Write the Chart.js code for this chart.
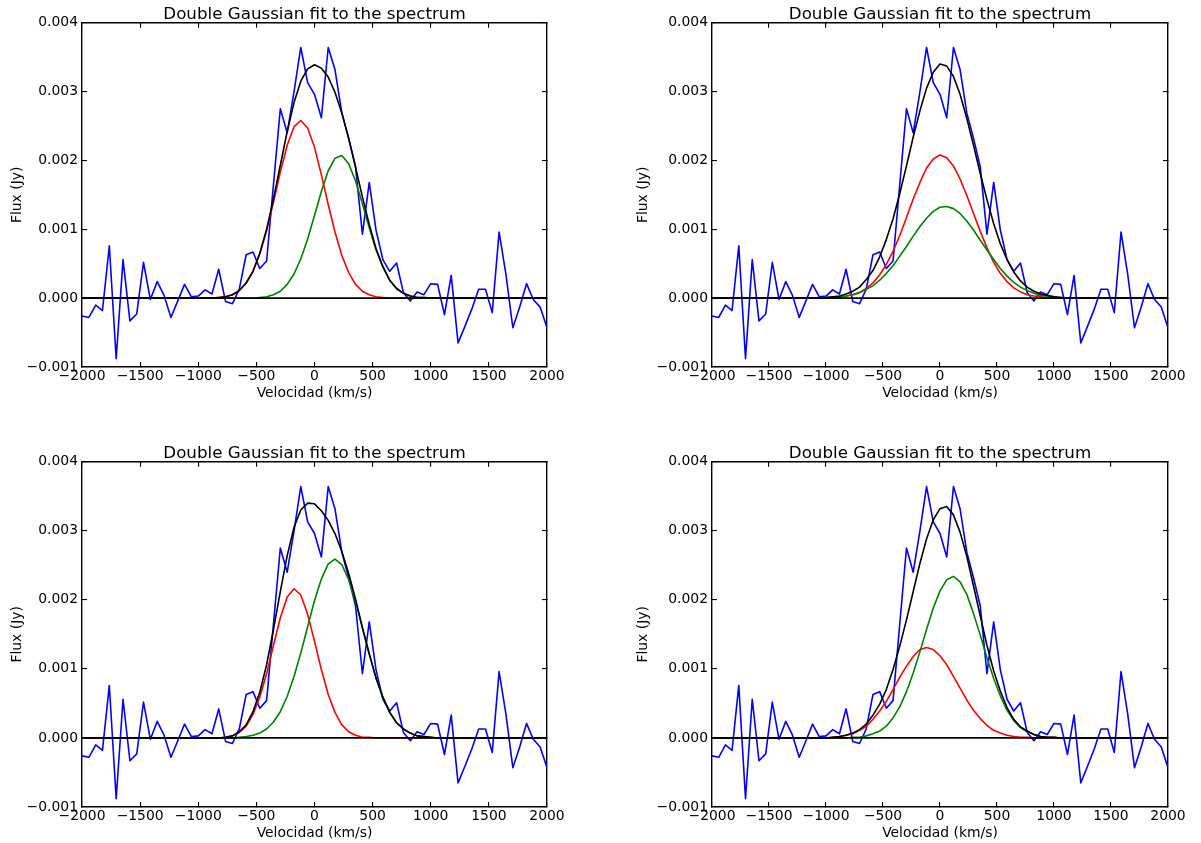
<!DOCTYPE html>
<html>
<head>
<meta charset="utf-8">
<script src="https://cdn.jsdelivr.net/npm/chart.js@4.4.1/dist/chart.umd.min.js"></script>
<style>
  html, body { margin: 0; padding: 0; background: #fff; overflow: hidden; }
  canvas { position: absolute; }
</style>
</head>
<body>
<canvas id="c1" width="600" height="403" style="left:0px;top:0px"></canvas>
<canvas id="c2" width="575" height="403" style="left:626px;top:0px"></canvas>
<canvas id="c3" width="600" height="404" style="left:0px;top:439px"></canvas>
<canvas id="c4" width="575" height="404" style="left:626px;top:439px"></canvas>
<script>
// velocity grid (km/s)
const vel = [-2000,-1941,-1882,-1824,-1765,-1706,-1647,-1588,-1529,-1471,
  -1412,-1353,-1294,-1235,-1176,-1118,-1059,-1000,-941,-882,
  -824,-765,-706,-647,-588,-529,-471,-412,-353,-294,
  -235,-176,-118,-59,0,59,118,176,235,294,
  353,412,471,529,588,647,706,765,824,882,
  941,1000,1059,1118,1176,1235,1294,1353,1412,1471,
  1529,1588,1647,1706,1765,1824,1882,1941,2000];

// observed spectrum, mJy
const spec = [-0.26,-0.28,-0.10,-0.18,0.76,-0.88,0.56,-0.33,-0.23,0.52,
  -0.02,0.24,0.04,-0.28,-0.04,0.20,0.02,0.03,0.12,0.06,
  0.42,-0.05,-0.08,0.13,0.63,0.67,0.43,0.54,1.65,2.75,
  2.40,3.00,3.64,3.13,2.96,2.62,3.64,3.32,2.69,2.32,
  1.91,0.93,1.68,0.99,0.56,0.39,0.51,0.08,-0.04,0.09,
  0.05,0.21,0.20,-0.24,0.33,-0.65,-0.41,-0.16,0.13,0.13,
  -0.21,0.96,0.34,-0.43,-0.13,0.21,-0.02,-0.13,-0.43];

// fit 1 (top left), mJy
const red1 = [0,0,0,0,0,0,0,0,0,0,
  0,0,0,0,0,0,0,0,0,0,
  0.01,0.02,0.05,0.11,0.22,0.39,0.64,0.98,1.39,1.83,
  2.22,2.49,2.58,2.47,2.19,1.79,1.36,0.96,0.62,0.37,
  0.20,0.10,0.05,0.02,0.01,0,0,0,0,0,
  0,0,0,0,0,0,0,0,0,0,
  0,0,0,0,0,0,0,0,0];
const green1 = [0,0,0,0,0,0,0,0,0,0,
  0,0,0,0,0,0,0,0,0,0,
  0,0,0,0,0,0,0.01,0.02,0.05,0.10,
  0.20,0.35,0.57,0.86,1.20,1.55,1.85,2.03,2.07,1.95,
  1.70,1.37,1.02,0.70,0.45,0.26,0.14,0.07,0.03,0.01,
  0.01,0,0,0,0,0,0,0,0,0,
  0,0,0,0,0,0,0,0,0];
const total1 = [0,0,0,0,0,0,0,0,0,0,
  0,0,0,0,0,0,0,0,0,0,
  0.01,0.02,0.05,0.11,0.22,0.39,0.65,1.00,1.44,1.93,
  2.42,2.84,3.15,3.33,3.39,3.34,3.21,2.99,2.69,2.32,
  1.90,1.47,1.07,0.72,0.46,0.26,0.14,0.07,0.03,0.01,
  0.01,0,0,0,0,0,0,0,0,0,
  0,0,0,0,0,0,0,0,0];

// fit 2 (top right), mJy
const red2 = [0,0,0,0,0,0,0,0,0,0,
  0,0,0,0,0,0,0,0,0.01,0.01,
  0.03,0.05,0.08,0.14,0.22,0.34,0.49,0.68,0.91,1.17,
  1.44,1.68,1.89,2.02,2.08,2.04,1.92,1.73,1.49,1.23,
  0.97,0.73,0.52,0.36,0.24,0.15,0.09,0.05,0.03,0.02,
  0.01,0,0,0,0,0,0,0,0,0,
  0,0,0,0,0,0,0,0,0];
const green2 = [0,0,0,0,0,0,0,0,0,0,
  0,0,0,0,0,0,0,0.01,0.01,0.02,
  0.03,0.05,0.08,0.13,0.18,0.26,0.36,0.47,0.61,0.75,
  0.90,1.04,1.16,1.26,1.32,1.33,1.30,1.23,1.12,0.99,
  0.84,0.70,0.56,0.43,0.32,0.23,0.16,0.11,0.07,0.04,
  0.03,0.02,0.01,0,0,0,0,0,0,0,
  0,0,0,0,0,0,0,0,0];
const total2 = [0,0,0,0,0,0,0,0,0,0,
  0,0,0,0,0,0,0,0.01,0.02,0.03,
  0.06,0.10,0.16,0.27,0.40,0.60,0.85,1.15,1.52,1.92,
  2.34,2.72,3.05,3.28,3.40,3.37,3.22,2.96,2.61,2.22,
  1.81,1.43,1.08,0.79,0.56,0.38,0.25,0.16,0.10,0.06,
  0.04,0.02,0.01,0,0,0,0,0,0,0,
  0,0,0,0,0,0,0,0,0];

// fit 3 (bottom left), mJy
const red3 = [0,0,0,0,0,0,0,0,0,0,
  0,0,0,0,0,0,0,0,0,0,
  0,0.01,0.03,0.08,0.17,0.34,0.59,0.93,1.34,1.74,
  2.04,2.16,2.07,1.79,1.40,0.99,0.63,0.37,0.19,0.09,
  0.04,0.01,0.01,0,0,0,0,0,0,0,
  0,0,0,0,0,0,0,0,0,0,
  0,0,0,0,0,0,0,0,0];
const green3 = [0,0,0,0,0,0,0,0,0,0,
  0,0,0,0,0,0,0,0,0,0,
  0,0,0,0.01,0.02,0.04,0.07,0.13,0.23,0.38,
  0.60,0.89,1.23,1.61,1.99,2.30,2.52,2.59,2.51,2.29,
  1.97,1.59,1.21,0.87,0.59,0.37,0.22,0.13,0.07,0.03,
  0.02,0.01,0,0,0,0,0,0,0,0,
  0,0,0,0,0,0,0,0,0];
const total3 = [0,0,0,0,0,0,0,0,0,0,
  0,0,0,0,0,0,0,0,0,0,
  0,0.01,0.03,0.09,0.19,0.38,0.66,1.06,1.57,2.12,
  2.64,3.05,3.30,3.40,3.39,3.29,3.15,2.96,2.70,2.38,
  2.01,1.60,1.22,0.87,0.59,0.37,0.22,0.13,0.07,0.03,
  0.02,0.01,0,0,0,0,0,0,0,0,
  0,0,0,0,0,0,0,0,0];

// fit 4 (bottom right), mJy
const red4 = [0,0,0,0,0,0,0,0,0,0,
  0,0,0,0,0,0,0,0,0.01,0.02,
  0.04,0.06,0.11,0.17,0.27,0.39,0.53,0.70,0.88,1.04,
  1.18,1.28,1.31,1.28,1.19,1.06,0.89,0.72,0.55,0.40,
  0.28,0.18,0.11,0.07,0.04,0.02,0.01,0.01,0,0,
  0,0,0,0,0,0,0,0,0,0,
  0,0,0,0,0,0,0,0,0];
const green4 = [0,0,0,0,0,0,0,0,0,0,
  0,0,0,0,0,0,0,0,0,0,
  0,0.01,0.01,0.03,0.06,0.10,0.17,0.29,0.45,0.67,
  0.94,1.25,1.57,1.88,2.13,2.29,2.34,2.26,2.08,1.80,
  1.49,1.16,0.86,0.61,0.40,0.25,0.15,0.09,0.05,0.02,
  0.01,0.01,0,0,0,0,0,0,0,0,
  0,0,0,0,0,0,0,0,0];
const total4 = [0,0,0,0,0,0,0,0,0,0,
  0,0,0,0,0,0,0,0,0.01,0.02,
  0.04,0.07,0.12,0.20,0.33,0.49,0.70,0.99,1.33,1.71,
  2.12,2.53,2.88,3.16,3.32,3.35,3.23,2.98,2.63,2.20,
  1.77,1.34,0.97,0.68,0.44,0.27,0.16,0.10,0.05,0.02,
  0.01,0.01,0,0,0,0,0,0,0,0,
  0,0,0,0,0,0,0,0,0];

const zeroX = [-2000, 2000];
const zeroY = [0, 0];

const xMin = -2000, xMax = 2000, xStep = 500;
const yMin = -0.001, yMax = 0.004, yStep = 0.001;
const MJY = 0.001;

const FONT = 'DejaVu Sans';
Chart.defaults.font.family = FONT;

const pts = (xs, ys, k) => xs.map((x, i) => ({ x: x, y: ys[i] * k }));
const minus = s => s.replace('-', '\u2212');

function line(data, color, w) {
  return {
    data: data,
    borderColor: color,
    borderWidth: w,
    borderJoinStyle: 'round',
    pointRadius: 0,
    tension: 0,
    fill: false
  };
}

function makeChart(p) {
  const grid = { drawOnChartArea: false, tickLength: -5, color: '#000', lineWidth: 1.1 };
  const border = { color: '#000', width: 1.4 };
  const tickFont = { family: FONT, size: 13.9 };
  const labFont = { family: FONT, size: 13.9 };

  new Chart(document.getElementById(p.id), {
    type: 'line',
    data: {
      datasets: [
        line(pts(zeroX, zeroY, 1), '#000000', 1.8),
        line(pts(vel, p.total, MJY), '#000000', 1.6),
        line(pts(vel, p.green, MJY), '#008000', 1.6),
        line(pts(vel, p.red, MJY), '#ff0000', 1.6),
        line(pts(vel, spec, MJY), '#0000ff', 1.6)
      ]
    },
    options: {
      responsive: false,
      animation: false,
      events: [],
      layout: { padding: { left: 0, top: 0, right: p.padRight, bottom: 0 } },
      plugins: {
        legend: { display: false },
        tooltip: { enabled: false },
        title: {
          display: true,
          text: 'Double Gaussian fit to the spectrum',
          color: '#000',
          fullSize: false,
          font: { family: FONT, size: 16.7, weight: 'normal', lineHeight: 1 },
          padding: { top: 6, bottom: 0 }
        }
      },
      scales: {
        x: {
          type: 'linear', position: 'bottom', min: xMin, max: xMax,
          ticks: {
            stepSize: xStep, padding: 6, color: '#000', font: tickFont,
            maxRotation: 0, autoSkip: false,
            callback: v => minus(String(v))
          },
          grid: grid, border: border,
          title: { display: true, text: 'Velocidad (km/s)', color: '#000', font: labFont, padding: { top: 0, bottom: 1 } },
          afterFit: s => { s.height = 36; }
        },
        x2: {
          type: 'linear', position: 'top', min: xMin, max: xMax,
          ticks: { stepSize: xStep, display: false },
          grid: grid, border: border,
          afterFit: s => { s.height = 0; }
        },
        y: {
          type: 'linear', position: 'left', min: yMin, max: yMax,
          ticks: {
            stepSize: yStep, padding: 9, color: '#000', font: tickFont,
            callback: v => Math.abs(v) < 1e-9 ? '0.000' : minus(v.toFixed(3))
          },
          grid: grid, border: border,
          title: { display: true, text: 'Flux (Jy)', color: '#000', font: labFont, padding: { top: 9, bottom: 0 } },
          afterFit: s => { s.width = p.yAxisW; }
        },
        y2: {
          type: 'linear', position: 'right', min: yMin, max: yMax,
          ticks: { stepSize: yStep, display: false },
          grid: grid, border: border,
          afterFit: s => { s.width = 0; }
        }
      }
    }
  });
}

const panels = [
  { id: 'c1', red: red1, green: green1, total: total1, yAxisW: 82, padRight: 53 },
  { id: 'c2', red: red2, green: green2, total: total2, yAxisW: 86, padRight: 33 },
  { id: 'c3', red: red3, green: green3, total: total3, yAxisW: 82, padRight: 53 },
  { id: 'c4', red: red4, green: green4, total: total4, yAxisW: 86, padRight: 33 }
];

panels.forEach(makeChart);
</script>
</body>
</html>
